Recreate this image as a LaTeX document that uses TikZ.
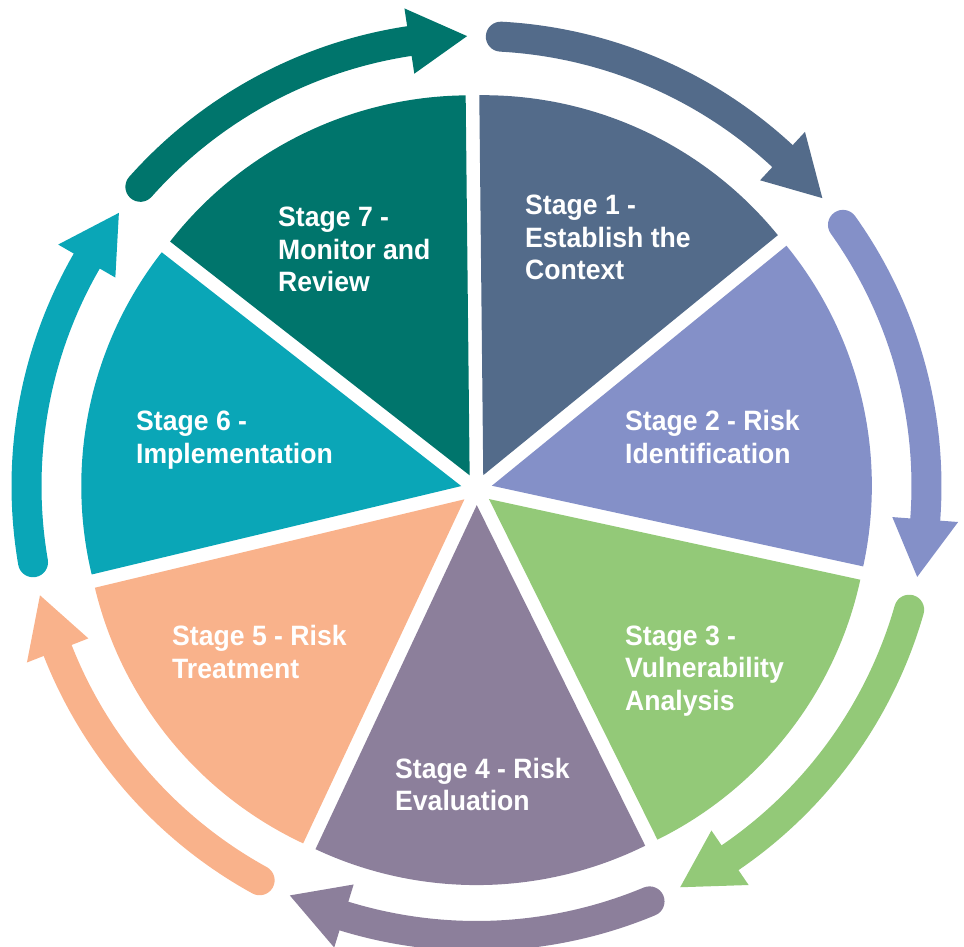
\documentclass[tikz,border=0pt]{standalone}
\usepackage{fontspec}
\setmainfont{Liberation Sans}[FakeStretch=0.95]
\usetikzlibrary{calc}
\definecolor{c1}{HTML}{536B8A}
\definecolor{c2}{HTML}{8490C8}
\definecolor{c3}{HTML}{93C978}
\definecolor{c4}{HTML}{8C7F9B}
\definecolor{c5}{HTML}{F9B28B}
\definecolor{c6}{HTML}{0AA6B7}
\definecolor{c7}{HTML}{00756C}
\tikzset{
  label/.style={anchor=base west, inner sep=0pt, align=left, text=white,
    font=\fontsize{28}{32.5}\selectfont\bfseries},
  shaft/.style={line width=30pt, line cap=round}
}
\begin{document}
\begin{tikzpicture}[x=1pt,y=1pt]
\useasboundingbox (0,0) rectangle (964,946);
\coordinate (C) at (476.6,456.6);
\coordinate (A) at (476.5,460);
% pie sectors (exploded)
\foreach \k/\col in {1/c1,2/c2,3/c3,4/c4,5/c5,6/c6,7/c7}{
  \pgfmathsetmacro\a{90.6-(\k-1)*360/7}
  \pgfmathsetmacro\b{\a-360/7}
  \pgfmathsetmacro\m{\a-180/7}
  \fill[\col] (C) ++(\m:15.7pt) -- ++(\a:380pt) arc[start angle=\a, end angle=\b, radius=380pt] -- cycle;
}
% outer arrows
\foreach \k/\col in {1/c1,2/c2,3/c3,4/c4,5/c5,6/c6,7/c7}{
  \pgfmathsetmacro\t{90-(\k-1)*360/7-3.1}
  \pgfmathsetmacro\p{90-\k*360/7+1.2}
  \pgfmathsetmacro\q{\p+7.38}
  \pgfmathsetmacro\e{\q-2}
  \draw[shaft,\col] (A) ++(\t:450pt) arc[start angle=\t, end angle=\e, radius=450pt];
  \fill[\col] ($(A)+(\p:450pt)$) -- ($(A)+(\q:483pt)$) -- ($(A)+(\q:417pt)$) -- cycle;
}
% labels (anchored at the baseline of the last line)
\node[label] (s1) at (525,666) {Stage 1 -\\Establish the\\Context};
\node[label] (s2) at (625,482.7) {Stage 2 - Risk\\Identification};
\node[label] (s3) at (625,236) {Stage 3 -\\Vulnerability\\Analysis};
\node[label] (s4) at (395,135.3) {Stage 4 - Risk\\Evaluation};
\node[label] (s5) at (172,267.7) {Stage 5 - Risk\\Treatment};
\node[label] (s6) at (136,482.7) {Stage 6 -\\Implementation};
\node[label] (s7) at (278,654.3) {Stage 7 -\\Monitor and\\Review};
\end{tikzpicture}
\end{document}
